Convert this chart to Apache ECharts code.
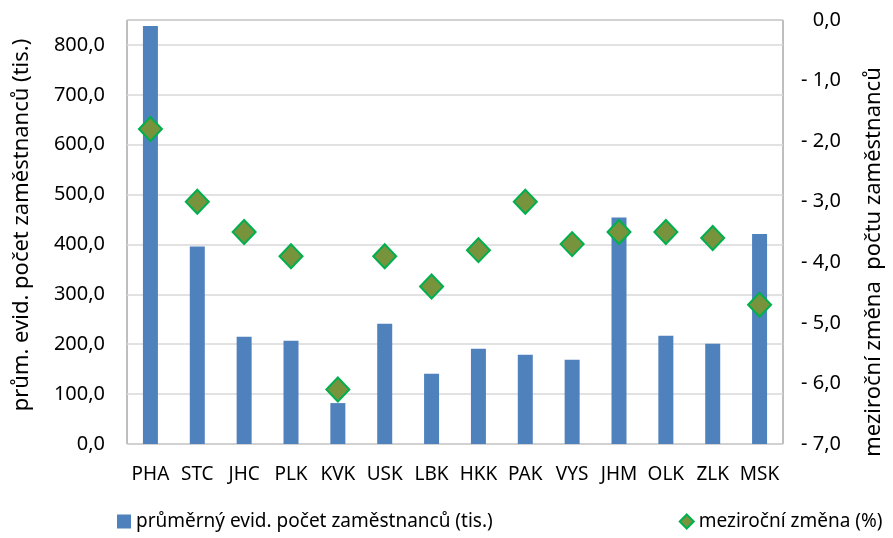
<!DOCTYPE html>
<html>
<head>
<meta charset="utf-8">
<script src="https://cdn.jsdelivr.net/npm/echarts@6/dist/echarts.min.js"></script>
<style>
  html, body { margin: 0; padding: 0; background: #fff; }
  #chart { width: 893px; height: 538px; }
</style>
</head>
<body>
<div id="chart"></div>
<script>
var kraje = ['PHA', 'STC', 'JHC', 'PLK', 'KVK', 'USK', 'LBK', 'HKK', 'PAK', 'VYS', 'JHM', 'OLK', 'ZLK', 'MSK'];
var pocet = [838, 396, 215, 207, 82, 241, 141, 191, 179, 169, 454, 217, 201, 421];
var zmena = [-1.8, -3.0, -3.5, -3.9, -6.1, -3.9, -4.4, -3.8, -3.0, -3.7, -3.5, -3.5, -3.6, -4.7];

var font = 'Noto Sans';
var txt = '#000';

function carka(v) {
  return v.toFixed(1).replace('.', ',');
}

var chart = echarts.init(document.getElementById('chart'));
chart.setOption({
  animation: false,
  textStyle: {fontFamily: font},
  grid: {
    left: 127, right: 101, top: 20, bottom: 94,
    show: true,
    borderColor: '#7f7f7f',
    borderWidth: 1,
  },
  legend: {
    bottom: 2,
    left: 112,
    width: 790,
    itemGap: 186,
    itemWidth: 14,
    itemHeight: 14,
    textStyle: {fontFamily: font, fontSize: 19, color: txt},
    data: [
      {name: 'průměrný evid. počet zaměstnanců (tis.)', icon: 'rect'},
      {name: 'meziroční změna (%)', icon: 'diamond'},
    ],
  },
  xAxis: {
    type: 'category',
    data: kraje,
    axisLine: {show: false},
    axisTick: {show: false},
    axisLabel: {color: txt, fontSize: 19, margin: 21, interval: 0},
  },
  yAxis: [
    {
      type: 'value',
      min: 0,
      max: 850,
      interval: 100,
      name: 'prům. evid. počet zaměstnanců (tis.)',
      nameLocation: 'middle',
      nameGap: 94,
      nameRotate: 90,
      nameTextStyle: {fontSize: 22, color: txt, padding: [0, 0, 0, 14]},
      axisLine: {show: false},
      axisTick: {show: false},
      axisLabel: {
        color: txt, fontSize: 20, margin: 22,
        showMaxLabel: false,
        formatter: function(v) { return carka(v); },
      },
      splitLine: {lineStyle: {color: '#d9d9d9', width: 1.5}},
    },
    {
      type: 'value',
      position: 'right',
      min: -7,
      max: 0,
      interval: 1,
      name: 'meziroční změna  počtu zaměstnanců',
      nameLocation: 'middle',
      nameGap: 80,
      nameRotate: 90,
      nameTextStyle: {fontSize: 22, color: txt, padding: [0, 60, 0, 0]},
      axisLine: {show: false},
      axisTick: {show: false},
      axisLabel: {
        color: txt, fontSize: 20, margin: 58, align: 'right',
        formatter: function(v) {
          return v === 0 ? '0,0' : '- ' + carka(Math.abs(v));
        },
      },
      splitLine: {show: false},
    },
  ],
  series: [
    {
      name: 'průměrný evid. počet zaměstnanců (tis.)',
      type: 'bar',
      data: pocet,
      barWidth: 15,
      itemStyle: {color: '#4f81bd'},
    },
    {
      name: 'meziroční změna (%)',
      type: 'scatter',
      yAxisIndex: 1,
      data: zmena,
      symbol: 'diamond',
      symbolSize: [23, 24],
      itemStyle: {color: '#77933c', opacity: 1, borderColor: '#00b050', borderWidth: 2},
    },
  ],
});
</script>
</body>
</html>
